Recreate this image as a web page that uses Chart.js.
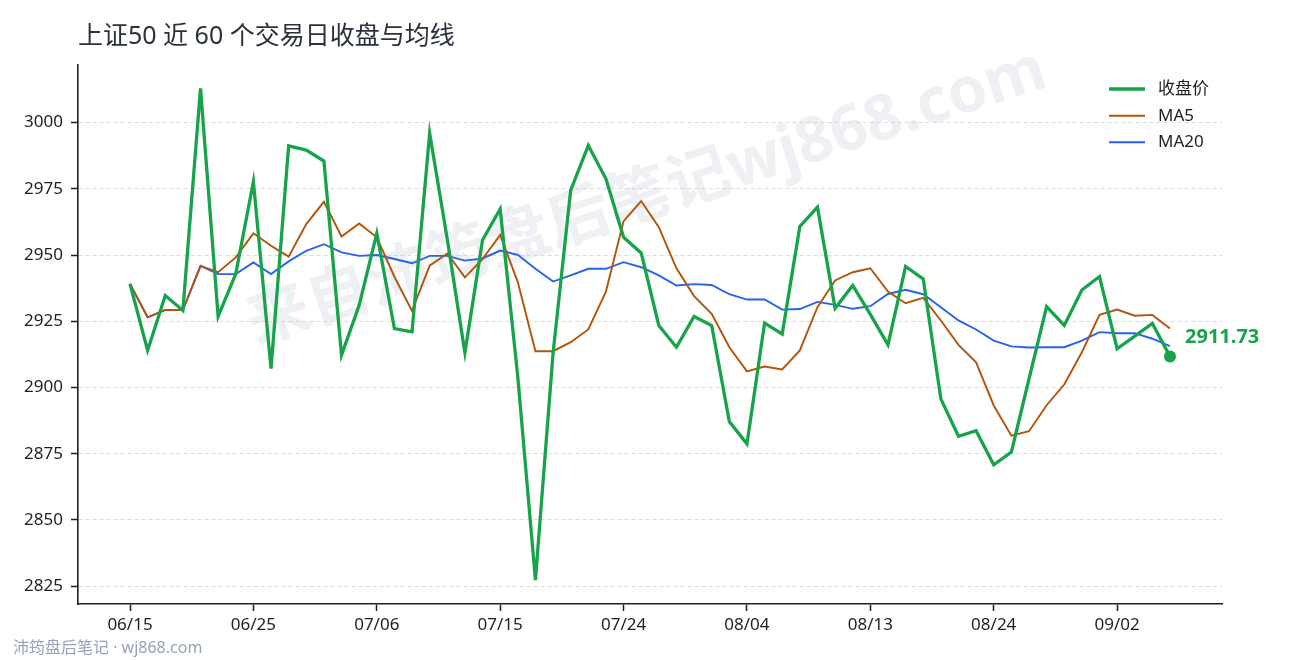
<!DOCTYPE html>
<html><head><meta charset="utf-8">
<script src="https://cdn.jsdelivr.net/npm/chart.js@4.4.1/dist/chart.umd.min.js"></script>
<style>html,body{margin:0;padding:0;background:#fff}canvas{display:block}</style>
</head><body>
<canvas id="c" width="1290" height="660"></canvas>
<script>
const dates = ['06/15','06/16','06/17','06/18','06/22','06/23','06/24','06/25','06/26','06/29',
  '06/30','07/01','07/02','07/03','07/06','07/07','07/08','07/09','07/10','07/13',
  '07/14','07/15','07/16','07/17','07/20','07/21','07/22','07/23','07/24','07/27',
  '07/28','07/29','07/30','07/31','08/03','08/04','08/05','08/06','08/07','08/10',
  '08/11','08/12','08/13','08/14','08/17','08/18','08/19','08/20','08/21','08/24',
  '08/25','08/26','08/27','08/28','08/31','09/01','09/02','09/03','09/04','09/07'];
const closes = [2939.1,2914.0,2934.7,2929.1,3012.9,2926.8,2942.9,2977.7,2907.1,2991.2,
  2989.6,2985.5,2912.2,2931.0,2958.2,2922.2,2921.0,2996.0,2956.0,2913.1,
  2955.7,2967.4,2904.0,2827.3,2913.0,2974.4,2991.4,2978.8,2956.7,2950.8,
  2923.4,2915.2,2926.8,2923.4,2887.1,2878.7,2924.3,2920.2,2960.8,2968.1,
  2929.9,2938.5,2927.6,2916.1,2945.7,2941.0,2895.7,2881.6,2883.7,2870.8,
  2875.6,2903.2,2930.5,2923.4,2936.8,2941.9,2914.6,2919.4,2924.2,2911.73];
const ma5 = [2939.1,2926.5,2929.3,2929.2,2945.9,2943.5,2949.1,2958.2,2953.5,2949.4,
  2961.7,2970.1,2957.0,2961.9,2956.7,2941.8,2928.9,2946.0,2950.6,2941.6,
  2948.5,2957.6,2939.8,2913.7,2913.7,2917.1,2921.9,2936.2,2962.8,2970.4,
  2960.5,2945.0,2934.5,2927.8,2915.2,2906.1,2907.9,2906.8,2914.0,2930.3,
  2940.4,2943.5,2945.0,2936.2,2931.8,2933.8,2925.3,2916.1,2909.5,2893.2,
  2881.8,2883.5,2893.3,2901.1,2913.3,2927.4,2929.4,2927.1,2927.4,2922.3];
const ma20 = [2939.1,2926.5,2929.3,2929.2,2945.9,2942.8,2942.8,2947.2,2942.8,2947.6,
  2951.6,2954.1,2951.0,2949.7,2950.0,2948.5,2946.9,2949.7,2949.7,2947.9,
  2948.7,2951.7,2950.1,2944.8,2940.0,2942.3,2944.8,2944.8,2947.3,2945.4,
  2942.3,2938.5,2939.0,2938.7,2935.2,2933.2,2933.2,2929.4,2929.6,2932.3,
  2931.2,2929.7,2930.7,2935.3,2936.9,2935.2,2930.3,2925.3,2921.9,2917.7,
  2915.5,2915.1,2915.2,2915.2,2917.7,2920.9,2920.5,2920.5,2918.4,2915.6];
const yTicks = [2825,2850,2875,2900,2925,2950,2975,3000];
const xTickIdx = [0,7,14,21,28,35,42,49,56];
const seriesNames = ['收盘价','MA5','MA20'];
const titleText = '上证50 近 60 个交易日收盘与均线';
const footerText = '沛筠盘后笔记 · wj868.com';
const watermarkText = '来自沛筠盘后笔记wj868.com';

const FONT = '"Noto Sans", "Noto Sans CJK SC", sans-serif';
const COLORS = ['#16a34a', '#b45309', '#2563eb'];
const WIDTHS = [3.3, 1.9, 1.9];
const lastIdx = closes.length - 1;

const toXY = arr => arr.map((v, i) => ({x: i, y: v}));

const decor = {
  id: 'decor',
  beforeDatasetsDraw(chart) {
    const ctx = chart.ctx;
    ctx.save();
    ctx.translate(647, 198);
    ctx.rotate(-18 * Math.PI / 180);
    ctx.font = 'bold 63px ' + FONT;
    ctx.fillStyle = 'rgba(195,200,214,0.28)';
    ctx.textAlign = 'center';
    ctx.textBaseline = 'middle';
    ctx.fillText(watermarkText, 0, 0);
    ctx.restore();
  },
  afterDraw(chart) {
    const ctx = chart.ctx;
    ctx.save();
    // title
    ctx.font = '25px ' + FONT;
    ctx.fillStyle = '#2a303c';
    ctx.textAlign = 'left';
    ctx.textBaseline = 'middle';
    ctx.fillText(titleText, 78, 37);
    // legend
    const ly = [89, 115.7, 142.3];
    ctx.font = '17px ' + FONT;
    for (let i = 0; i < 3; i++) {
      ctx.strokeStyle = COLORS[i];
      ctx.lineWidth = WIDTHS[i];
      ctx.beginPath();
      ctx.moveTo(1109, ly[i]);
      ctx.lineTo(1145, ly[i]);
      ctx.stroke();
      ctx.fillStyle = '#1f1f1f';
      ctx.fillText(seriesNames[i], 1158, ly[i]);
    }
    // last value annotation
    const xs = chart.scales.x, ys = chart.scales.y;
    const px = xs.getPixelForValue(lastIdx), py = ys.getPixelForValue(closes[lastIdx]);
    ctx.font = 'bold 20px ' + FONT;
    ctx.fillStyle = COLORS[0];
    ctx.fillText(closes[lastIdx].toFixed(2), px + 15, py - 19);
    // footer
    ctx.font = '16px ' + FONT;
    ctx.fillStyle = '#94a3b8';
    ctx.fillText(footerText, 13, 648);
    ctx.restore();
  }
};

new Chart(document.getElementById('c'), {
  type: 'line',
  data: {
    datasets: [
      {label: seriesNames[0], data: toXY(closes), borderColor: COLORS[0], backgroundColor: COLORS[0],
       borderWidth: WIDTHS[0], tension: 0,
       pointRadius: c => c.dataIndex === lastIdx ? 6 : 0, pointHoverRadius: 0,
       pointBackgroundColor: COLORS[0], pointBorderWidth: 0},
      {label: seriesNames[1], data: toXY(ma5), borderColor: COLORS[1], borderWidth: WIDTHS[1], tension: 0, pointRadius: 0},
      {label: seriesNames[2], data: toXY(ma20), borderColor: COLORS[2], borderWidth: WIDTHS[2], tension: 0, pointRadius: 0}
    ]
  },
  options: {
    responsive: false,
    animation: false,
    devicePixelRatio: 1,
    layout: {padding: {left: 0, top: 65, right: 68, bottom: 0}},
    plugins: {legend: {display: false}, title: {display: false}, tooltip: {enabled: false}},
    scales: {
      x: {
        type: 'linear', min: -2.95, max: 61.95,
        afterBuildTicks: s => { s.ticks = xTickIdx.map(v => ({value: v})); },
        afterFit: s => { s.height = 56; },
        ticks: {callback: v => dates[v], font: {family: FONT, size: 17}, color: '#1f1f1f', padding: 4, maxRotation: 0, autoSkip: false},
        grid: {drawOnChartArea: false, drawTicks: true, tickLength: 7, tickColor: '#1f1f1f', tickWidth: 1.5},
        border: {display: true, color: '#1f1f1f', width: 1.6}
      },
      y: {
        type: 'linear', min: 2818.25, max: 3021.75,
        afterBuildTicks: s => { s.ticks = yTicks.map(v => ({value: v})); },
        afterFit: s => { s.width = 78; },
        ticks: {callback: v => String(v), font: {family: FONT, size: 17}, color: '#1f1f1f', padding: 8},
        grid: {color: '#dcdcdc', lineWidth: 1, drawTicks: true, tickLength: 7, tickColor: '#1f1f1f', tickWidth: 1.5},
        border: {display: true, color: '#1f1f1f', width: 1.6, dash: [4, 3]}
      }
    }
  },
  plugins: [decor]
});
</script>
</body></html>
